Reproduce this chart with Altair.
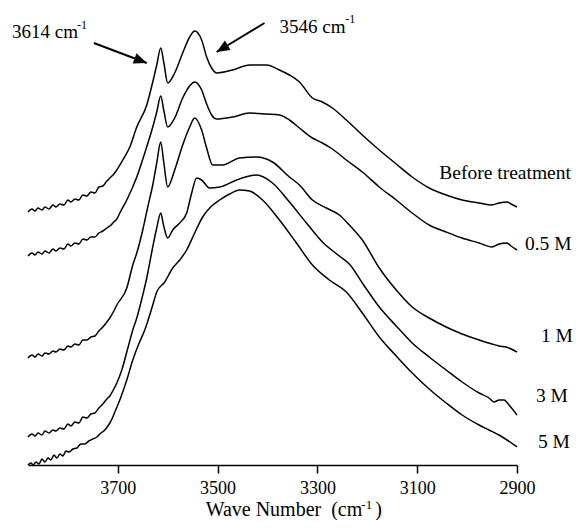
import altair as alt
import pandas as pd

# ---------------- data (wave number in cm-1, absorbance in arbitrary offset units) ----------------
series_names = ["Before treatment", "0.5 M", "1 M", "3 M", "5 M"]

wn_A = [3880, 3872, 3866, 3860, 3852, 3846, 3838, 3830, 3824, 3816, 3808, 3800, 3794, 3786, 3778, 3770,
        3762, 3754, 3746, 3738, 3730, 3722, 3716, 3708, 3702,
        3690, 3676, 3662, 3642, 3630, 3622, 3614, 3608, 3600,
        3586, 3570, 3556, 3546, 3532, 3522, 3512, 3502,
        3470, 3436, 3402, 3376, 3356, 3336, 3310, 3290, 3270, 3242, 3210, 3176, 3142, 3110, 3076, 3042,
        3010, 2976, 2950, 2936, 2920, 2912, 2900]
val_A = [2.54, 2.57, 2.55, 2.58, 2.56, 2.59, 2.57, 2.61, 2.59, 2.62, 2.61, 2.66, 2.64, 2.67, 2.66, 2.71,
         2.70, 2.74, 2.73, 2.79, 2.80, 2.85, 2.88, 2.92, 2.96,
         3.06, 3.19, 3.39, 3.61, 3.84, 4.01, 4.18, 4.04, 3.83,
         3.93, 4.13, 4.29, 4.35, 4.26, 4.09, 3.98, 3.93,
         3.96, 4.01, 4.01, 3.96, 3.91, 3.84, 3.68, 3.64, 3.58, 3.46, 3.31, 3.16, 3.02, 2.89, 2.78, 2.71,
         2.66, 2.63, 2.61, 2.63, 2.64, 2.62, 2.59]

wn_B = [3880, 3872, 3866, 3860, 3852, 3846, 3838, 3830, 3824, 3816, 3808, 3800, 3794, 3786, 3778, 3770,
        3762, 3754, 3746, 3738, 3730, 3722, 3716, 3708, 3702,
        3696, 3682, 3662, 3646, 3630, 3622, 3614, 3608, 3600,
        3586, 3570, 3556, 3546, 3532, 3522, 3512, 3502,
        3470, 3436, 3402, 3376, 3356, 3336, 3310, 3290, 3270, 3242, 3210, 3176, 3142, 3110, 3076, 3042,
        3010, 2976, 2950, 2936, 2920, 2912, 2900]
val_B = [2.10, 2.13, 2.11, 2.14, 2.12, 2.15, 2.13, 2.17, 2.15, 2.18, 2.17, 2.22, 2.20, 2.23, 2.22, 2.27,
         2.26, 2.29, 2.29, 2.33, 2.35, 2.38, 2.40, 2.44, 2.47,
         2.53, 2.66, 2.89, 3.13, 3.39, 3.54, 3.70, 3.56, 3.39,
         3.48, 3.68, 3.80, 3.84, 3.76, 3.62, 3.51, 3.47,
         3.49, 3.53, 3.52, 3.51, 3.46, 3.38, 3.28, 3.23, 3.17, 3.06, 2.94, 2.79, 2.66, 2.53, 2.41, 2.34,
         2.28, 2.23, 2.19, 2.22, 2.23, 2.20, 2.16]

wn_C = [3880, 3872, 3866, 3860, 3852, 3846, 3838, 3830, 3824, 3816, 3808, 3800, 3794, 3786, 3778, 3770,
        3762, 3754, 3746, 3738, 3730, 3722, 3716, 3708, 3702,
        3682, 3670, 3662, 3650, 3640, 3630, 3622, 3614, 3608, 3600,
        3586, 3570, 3556, 3546, 3532, 3522, 3510, 3490,
        3456, 3422, 3390, 3356, 3336, 3310, 3282, 3256, 3236, 3210, 3176, 3142, 3110, 3076, 3042,
        3010, 2976, 2950, 2936, 2922, 2900]
val_C = [1.08, 1.11, 1.09, 1.12, 1.10, 1.13, 1.12, 1.15, 1.14, 1.17, 1.16, 1.20, 1.19, 1.22, 1.21, 1.26,
         1.26, 1.29, 1.30, 1.35, 1.39, 1.44, 1.48, 1.55, 1.61,
         1.78, 2.01, 2.13, 2.36, 2.59, 2.81, 3.03, 3.24, 3.04, 2.79,
         2.96, 3.21, 3.39, 3.48, 3.36, 3.18, 3.01, 3.01,
         3.08, 3.09, 3.04, 2.89, 2.81, 2.66, 2.58, 2.51, 2.41, 2.26, 1.98, 1.76, 1.59, 1.48, 1.39,
         1.32, 1.26, 1.22, 1.20, 1.19, 1.14]

wn_D = [3880, 3872, 3866, 3860, 3852, 3846, 3838, 3830, 3824, 3816, 3808, 3800, 3794, 3786, 3778, 3770,
        3762, 3754, 3746, 3738, 3730, 3722, 3716, 3708, 3702,
        3692, 3682, 3670, 3662, 3650, 3642, 3630, 3622, 3614, 3608, 3600,
        3590, 3576, 3562, 3552, 3542, 3532, 3516, 3496, 3462, 3436, 3422, 3390,
        3356, 3322, 3290, 3256, 3236, 3210, 3176, 3142, 3110, 3076, 3042, 3010, 2976, 2956, 2946,
        2936, 2926, 2916, 2900]
val_D = [0.29, 0.32, 0.30, 0.33, 0.31, 0.35, 0.33, 0.36, 0.35, 0.38, 0.37, 0.42, 0.40, 0.44, 0.43, 0.49,
         0.48, 0.52, 0.53, 0.58, 0.62, 0.67, 0.70, 0.77, 0.83,
         0.96, 1.14, 1.36, 1.48, 1.71, 1.88, 2.19, 2.38, 2.53, 2.40, 2.28,
         2.36, 2.43, 2.53, 2.73, 2.88, 2.86, 2.78, 2.79, 2.86, 2.90, 2.91, 2.83,
         2.64, 2.43, 2.24, 2.10, 2.02, 1.83, 1.59, 1.40, 1.23, 1.09, 0.96, 0.84, 0.73, 0.68, 0.64,
         0.66, 0.66, 0.61, 0.51]

wn_E = [3880, 3874, 3870, 3864, 3858, 3852, 3846, 3840, 3834, 3828, 3822, 3816, 3810, 3804, 3798, 3790,
        3782, 3774, 3766, 3758, 3750, 3742, 3734, 3726, 3720, 3716, 3710, 3706,
        3696, 3682, 3670, 3658, 3646, 3630, 3622, 3606, 3590, 3576, 3562, 3546, 3530, 3512, 3496, 3476,
        3456, 3436, 3410,
        3376, 3342, 3310, 3276, 3242, 3210, 3176, 3142, 3110, 3076, 3042, 3010, 2976, 2956, 2936, 2920, 2900]
val_E = [0.01, 0.03, 0.01, 0.04, 0.02, 0.07, 0.04, 0.08, 0.06, 0.11, 0.08, 0.12, 0.10, 0.15, 0.14, 0.17,
         0.18, 0.22, 0.22, 0.25, 0.27, 0.29, 0.33, 0.36, 0.40, 0.43, 0.49, 0.54,
         0.66, 0.86, 1.06, 1.22, 1.36, 1.61, 1.74, 1.84, 1.98, 2.06, 2.16, 2.33, 2.49, 2.60, 2.66, 2.72,
         2.76, 2.75, 2.66,
         2.46, 2.23, 2.01, 1.86, 1.74, 1.53, 1.29, 1.10, 0.93, 0.77, 0.63, 0.51, 0.41, 0.36, 0.31, 0.26, 0.19]

tick_values = [3700, 3500, 3300, 3100, 2900]

# curve labels: text, anchor wave number, baseline value, alignment
label_text = ["Before treatment", "0.5 M", "1 M", "3 M", "5 M"]
label_wn = [2792, 2884, 2852, 2862, 2858]
label_val = [2.87, 2.16, 1.24, 0.64, 0.18]
label_align = ["right", "left", "left", "left", "left"]

# annotations (peak assignments + axis title pieces)
ann_text = ["3614 cm", "-1", "3546 cm", "-1", "Wave Number\u00a0 (cm", "-1", ")"]
ann_wn = [3912, 3782, 3376, 3244, 3210, 3212, 3184]
ann_val = [4.28, 4.37, 4.33, 4.43, -0.50, -0.43, -0.50]
ann_size = [19, 12, 19, 12, 20, 13, 20]
ann_align = ["left", "left", "left", "left", "right", "left", "left"]

# arrows: start (wn, val) -> tip (wn, val), head angle (deg, clockwise from up)
arrow_wn = [3748, 3406]
arrow_val = [4.23, 4.43]
arrow_tip_wn = [3642, 3502]
arrow_tip_val = [4.03, 4.14]
arrow_angle = [111, 239]

# ---------------- build tables ----------------
rows = []
for name, wns, vals in zip(series_names, [wn_A, wn_B, wn_C, wn_D, wn_E],
                           [val_A, val_B, val_C, val_D, val_E]):
    assert len(wns) == len(vals), name
    for w, v in zip(wns, vals):
        rows.append({"series": name, "wn": w, "absorb": v})
df = pd.DataFrame(rows)

labels = pd.DataFrame({"text": label_text, "wn": label_wn, "val": label_val, "align": label_align})
ann = pd.DataFrame({"text": ann_text, "wn": ann_wn, "val": ann_val, "size": ann_size, "align": ann_align})
arrows = pd.DataFrame({"wn": arrow_wn, "val": arrow_val, "wn2": arrow_tip_wn, "val2": arrow_tip_val,
                       "angle": arrow_angle})

FONT = "Liberation Serif"
x_scale = alt.Scale(domain=[3880, 2900], nice=False, zero=False)
y_scale = alt.Scale(domain=[0.01, 4.58], nice=False, zero=False)

x_axis = alt.Axis(values=tick_values, format="d", title=None, grid=False,
                  labelFont=FONT, labelFontSize=18, labelColor="black", labelFlush=False,
                  labelPadding=6, tickSize=8, tickColor="black", tickWidth=1.5,
                  domainColor="black", domainWidth=1.5)

lines = alt.Chart(df).mark_line(color="black", strokeWidth=1.5, interpolate="monotone").encode(
    x=alt.X("wn:Q", scale=x_scale, axis=x_axis),
    y=alt.Y("absorb:Q", scale=y_scale, axis=None),
    detail="series:N",
)


def text_layer(data, align, size=None):
    mark_kw = dict(align=align, baseline="alphabetic", font=FONT, color="black")
    enc = dict(x=alt.X("wn:Q", scale=x_scale), y=alt.Y("val:Q", scale=y_scale), text="text:N")
    if size is None:
        enc["size"] = alt.Size("size:Q", scale=None)
    else:
        mark_kw["fontSize"] = size
    return alt.Chart(data).transform_filter(alt.datum.align == align).mark_text(**mark_kw).encode(**enc)


label_left = text_layer(labels, "left", 19.5)
label_right = text_layer(labels, "right", 19.5)
ann_left = text_layer(ann, "left")
ann_right = text_layer(ann, "right")

shafts = alt.Chart(arrows).mark_rule(color="black", strokeWidth=2).encode(
    x=alt.X("wn:Q", scale=x_scale), y=alt.Y("val:Q", scale=y_scale),
    x2="wn2:Q", y2="val2:Q")

heads = alt.Chart(arrows).mark_point(shape="M0,0L-0.42,1L0.42,1Z", filled=True, opacity=1,
                                     color="black", size=676).encode(
    x=alt.X("wn2:Q", scale=x_scale), y=alt.Y("val2:Q", scale=y_scale),
    angle=alt.Angle("angle:Q", scale=None))

chart = alt.layer(lines, label_left, label_right, ann_left, ann_right, shafts, heads).properties(
    width=489, height=457,
    autosize=alt.AutoSizeParams(type="none"),
    padding={"left": 20, "top": 0, "right": 57, "bottom": 55},
).configure_view(stroke=None)

chart.save("out.html", embed_options={"renderer": "svg", "actions": False})
